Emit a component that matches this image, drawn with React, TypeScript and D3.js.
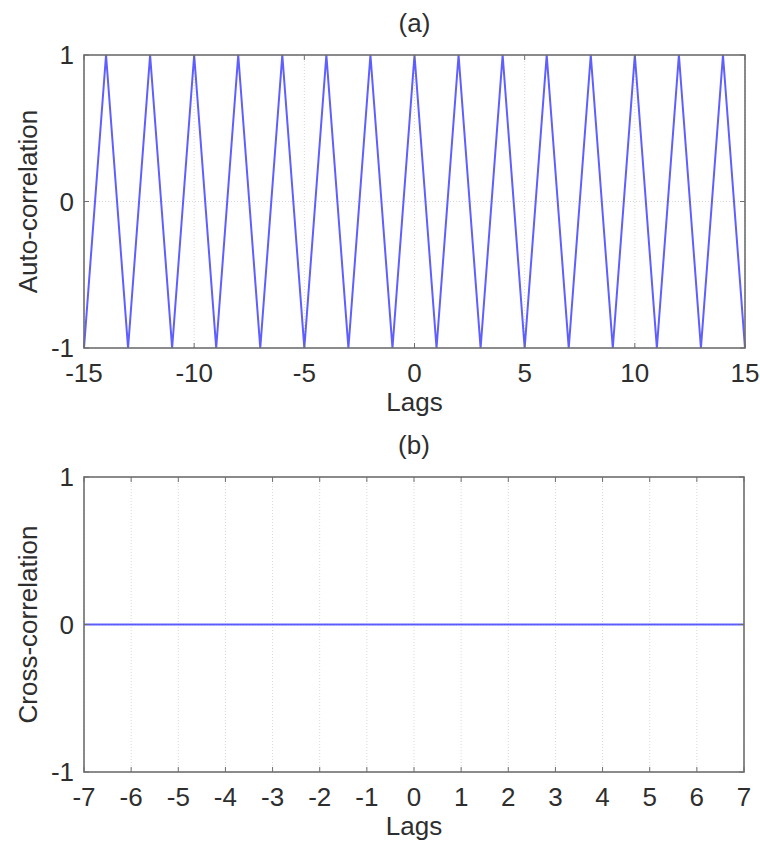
import React from "react";
import * as d3 from "d3";

const autoLags = [-15,-14,-13,-12,-11,-10,-9,-8,-7,-6,-5,-4,-3,-2,-1,0,1,2,3,4,5,6,7,8,9,10,11,12,13,14,15];
const autoValues = [-1,1,-1,1,-1,1,-1,1,-1,1,-1,1,-1,1,-1,1,-1,1,-1,1,-1,1,-1,1,-1,1,-1,1,-1,1,-1];
const autoXTicks = [-15,-10,-5,0,5,10,15];

const crossLags = [-7,-6,-5,-4,-3,-2,-1,0,1,2,3,4,5,6,7];
const crossValues = [0,0,0,0,0,0,0,0,0,0,0,0,0,0,0];
const crossXTicks = [-7,-6,-5,-4,-3,-2,-1,0,1,2,3,4,5,6,7];

const yTicks = [-1,0,1];

const FONT = "'Liberation Sans', Arial, sans-serif";
const FS = 26;

type PanelProps = {
  top: number; bottom: number; left: number; right: number;
  lags: number[]; values: number[]; xTicks: number[];
  title: string; ylabel: string;
};

function Panel({ top, bottom, left, right, lags, values, xTicks, title, ylabel }: PanelProps) {
  const x = d3.scaleLinear().domain([lags[0], lags[lags.length - 1]]).range([left, right]);
  const y = d3.scaleLinear().domain([-1, 1]).range([bottom, top]);
  const line = d3.line<number>().x((_, i) => x(lags[i])).y((d) => y(d));
  const axisColor = "#6e6e6e";
  const textColor = "#2e2e2e";
  return (
    <g>
      {xTicks.map((t) => (
        <line key={"gx" + t} x1={x(t)} x2={x(t)} y1={top} y2={bottom} stroke="#d8d8d8" strokeWidth={1} strokeDasharray="1,2" />
      ))}
      <line x1={left} x2={right} y1={y(0)} y2={y(0)} stroke="#d8d8d8" strokeWidth={1} strokeDasharray="1,2" />
      <path d={line(values) || ""} fill="none" stroke="#2a2aff" strokeOpacity={0.75} strokeWidth={2} />
      <rect x={left} y={top} width={right - left} height={bottom - top} fill="none" stroke={axisColor} strokeWidth={1.6} />
      {xTicks.map((t) => (
        <g key={"tx" + t}>
          <line x1={x(t)} x2={x(t)} y1={bottom} y2={bottom - 5} stroke={axisColor} strokeWidth={1} />
          <line x1={x(t)} x2={x(t)} y1={top} y2={top + 5} stroke={axisColor} strokeWidth={1} />
          <text x={x(t)} y={bottom + 34} textAnchor="middle" fontSize={FS} fill={textColor} fontFamily={FONT}>{t}</text>
        </g>
      ))}
      {yTicks.map((t) => (
        <g key={"ty" + t}>
          <line x1={left} x2={left + 5} y1={y(t)} y2={y(t)} stroke={axisColor} strokeWidth={1} />
          <line x1={right} x2={right - 5} y1={y(t)} y2={y(t)} stroke={axisColor} strokeWidth={1} />
          <text x={left - 10} y={y(t) + 9} textAnchor="end" fontSize={FS} fill={textColor} fontFamily={FONT}>{t}</text>
        </g>
      ))}
      <text x={(left + right) / 2} y={top - 23} textAnchor="middle" fontSize={FS} fill={textColor} fontFamily={FONT}>{title}</text>
      <text x={(left + right) / 2} y={bottom + 63} textAnchor="middle" fontSize={FS} fill={textColor} fontFamily={FONT}>Lags</text>
      <text transform={`translate(37,${(top + bottom) / 2}) rotate(-90)`} textAnchor="middle" fontSize={FS} fill={textColor} fontFamily={FONT}>{ylabel}</text>
    </g>
  );
}

export default function App() {
  return (
    <svg width={760} height={844} style={{ position: "absolute", left: 0, top: 0, background: "#fff" }}>
      <rect width={760} height={844} fill="#fff" />
      <Panel top={55} bottom={348} left={84} right={745} lags={autoLags} values={autoValues} xTicks={autoXTicks} title="(a)" ylabel="Auto-correlation" />
      <Panel top={477} bottom={772} left={84} right={744} lags={crossLags} values={crossValues} xTicks={crossXTicks} title="(b)" ylabel="Cross-correlation" />
    </svg>
  );
}
